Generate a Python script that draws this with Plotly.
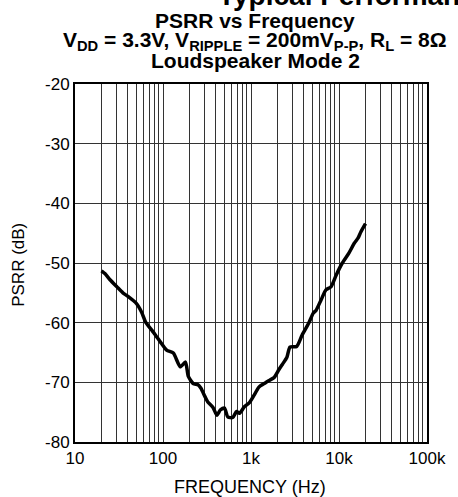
import plotly.graph_objects as go

freq_hz = [20, 22, 25, 30, 35, 40, 50, 57, 64, 75, 85, 94, 110, 131, 157, 180, 194, 220, 250, 270,
           300, 323, 370, 410, 450, 500, 545, 620, 685, 740, 840, 960, 1090, 1230, 1450, 1650, 1830,
           2070, 2270, 2560, 2770, 3300, 3800, 4520, 5100, 5500, 6250, 7100, 8100, 9300, 10900,
           13000, 14900, 16500, 17700, 20000]
psrr_db = [-51.3, -51.8, -52.8, -54.0, -55.0, -55.6, -56.8, -58.2, -60.0, -61.3, -62.4, -63.3, -64.6,
           -65.1, -67.4, -66.6, -69.0, -70.2, -70.4, -71.0, -72.4, -73.3, -74.2, -75.5, -74.6, -74.3,
           -75.8, -75.9, -74.9, -75.2, -74.1, -73.4, -72.1, -70.8, -70.1, -69.6, -69.2, -67.9, -67.0,
           -65.8, -64.1, -64.0, -62.1, -60.1, -58.4, -57.9, -56.2, -54.5, -54.0, -52.0, -50.0, -48.3,
           -46.7, -45.8, -44.8, -43.4]

x_major_ticks = [10, 100, 1000, 10000, 100000]
x_major_labels = ["10", "100", "1k", "10k", "100k"]
y_ticks = [-80, -70, -60, -50, -40, -30, -20]
y_labels = ["-80", "-70", "-60", "-50", "-40", "-30", "-20"]

# all grid positions 10..100k (1-9 multiples)
grid_x = []
for dec in [10, 100, 1000, 10000]:
    for m in range(1, 10):
        grid_x.append(dec * m)
grid_x.append(100000)
grid_text = [x_major_labels[x_major_ticks.index(v)] if v in x_major_ticks else "" for v in grid_x]

FONT = "Liberation Sans, Arial, sans-serif"
W, H = 458, 497
ML, MT = 75, 84
MR = W - 432
MB = H - 442
PW, PH = W - ML - MR, H - MT - MB


def px_to_paper_x(px):
    return (px - ML) / PW


def px_to_paper_y(py):
    return (H - MB - py) / PH


fig = go.Figure()
fig.add_trace(go.Scatter(x=freq_hz, y=psrr_db, mode="lines",
                         line=dict(color="black", width=3.5, shape="spline", smoothing=0.6),
                         showlegend=False))

fig.update_layout(
    width=W, height=H,
    margin=dict(l=ML, r=MR, t=MT, b=MB),
    paper_bgcolor="white", plot_bgcolor="white",
    font=dict(family=FONT, color="black", size=17),
    xaxis=dict(type="log", range=[1, 5], tickvals=grid_x, ticktext=grid_text,
               showgrid=True, gridcolor="#333", gridwidth=1.2, ticks="",
               showline=True, linecolor="black", linewidth=2, mirror=True,
               tickfont=dict(size=17), zeroline=False),
    yaxis=dict(range=[-80, -20], tickvals=y_ticks, ticktext=y_labels, showgrid=True,
               gridcolor="#333", gridwidth=1.2,
               ticks="", showline=True, linecolor="black", linewidth=2, mirror=True,
               tickfont=dict(size=17), zeroline=False),
)

title_lines = [
    ("<b>PSRR vs Frequency</b>", 34),
    ("<b>V<sub>DD</sub> = 3.3V, V<sub>RIPPLE</sub> = 200mV<sub>P-P</sub>, R<sub>L</sub> = 8Ω</b>", 56),
    ("<b>Loudspeaker Mode 2</b>", 74),
]
for txt, base in title_lines:
    fig.add_annotation(text=txt, xref="paper", yref="paper", x=px_to_paper_x(258),
                       y=px_to_paper_y(base), xanchor="center", yanchor="bottom", showarrow=False,
                       font=dict(family=FONT, size=21, color="black"))

fig.add_annotation(text="<b>Typical Performance Characteristics</b>", xref="paper", yref="paper",
                   x=px_to_paper_x(218), y=px_to_paper_y(13), xanchor="left", yanchor="bottom",
                   showarrow=False, font=dict(family=FONT, size=28, color="black"))

# axis titles
fig.add_annotation(text="FREQUENCY (Hz)", xref="paper", yref="paper",
                   x=px_to_paper_x(252), y=px_to_paper_y(499), xanchor="center", yanchor="bottom",
                   showarrow=False, font=dict(family=FONT, size=18, color="black"))
fig.add_annotation(text="PSRR (dB)", xref="paper", yref="paper", textangle=-90,
                   x=px_to_paper_x(17), y=px_to_paper_y(265), xanchor="center", yanchor="middle",
                   showarrow=False, font=dict(family=FONT, size=17, color="black"))

fig.write_html("out.html", config={"displayModeBar": False},
               post_script="document.body.style.margin='0';document.body.style.overflow='hidden';")
